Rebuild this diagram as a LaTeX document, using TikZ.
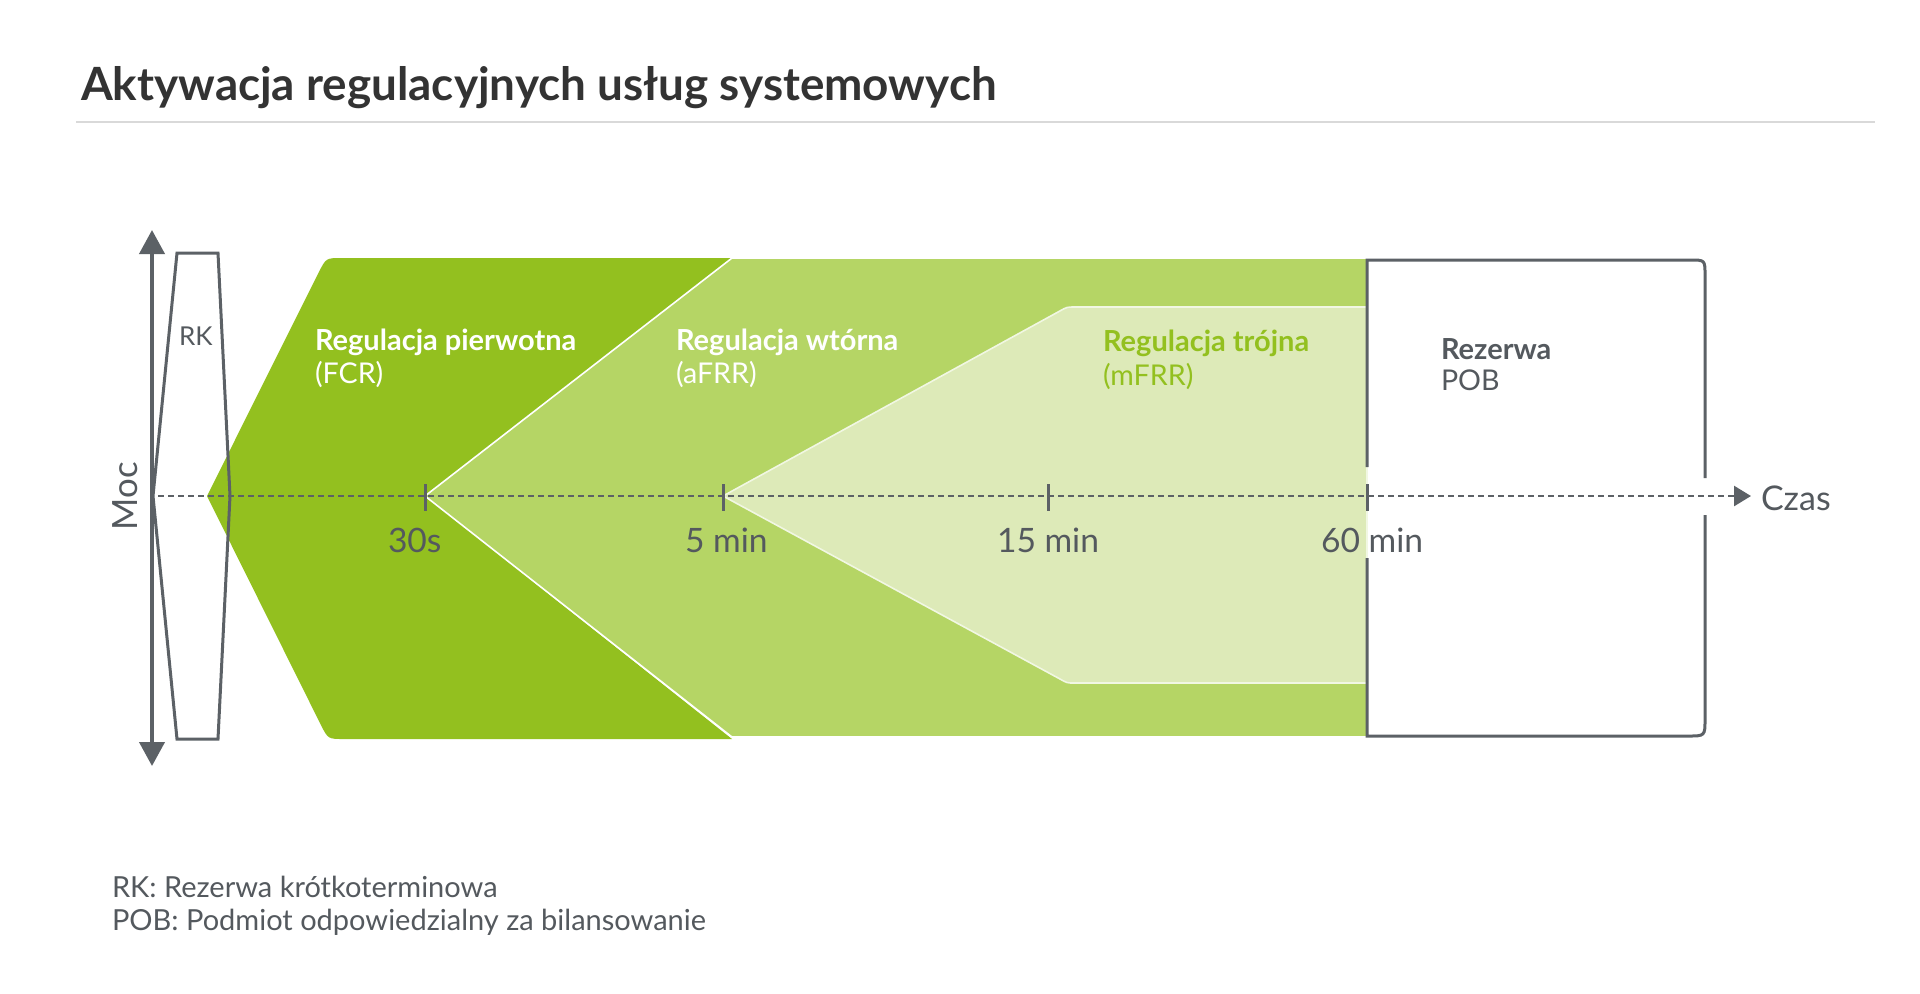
\documentclass[tikz,border=0pt]{standalone}
\usepackage{fontspec}
\setmainfont{Lato}
\usetikzlibrary{arrows.meta}
\definecolor{gfcr}{HTML}{93C01F}
\definecolor{gafrr}{HTML}{B5D565}
\definecolor{gmfrr}{HTML}{DDEAB8}
\definecolor{lgray}{HTML}{5C6166}
\definecolor{tgray}{HTML}{54595E}
\definecolor{ttl}{HTML}{333333}
\definecolor{rulec}{HTML}{D9D9D9}
\begin{document}
\begin{tikzpicture}[x=0.5pt,y=-0.5pt,
  txt/.style={anchor=base west, inner sep=0pt, outer sep=0pt},
  regbold/.style={font=\bfseries\fontsize{14.5pt}{16pt}\selectfont},
  regnorm/.style={font=\fontsize{14.3pt}{16pt}\selectfont},
  ticklbl/.style={txt, text=tgray, font=\fontsize{16.8pt}{19pt}\selectfont},
  gline/.style={draw=lgray, line width=1.5pt},
  tickmark/.style={draw=lgray, line width=1.5pt},
  axisline/.style={draw=lgray, line width=1.3pt, dash pattern=on 3pt off 2pt}]
\useasboundingbox (0,0) rectangle (1920,993);
\fill[white] (0,0) rectangle (1920,993);

% title
\node[txt, text=ttl, font=\bfseries\fontsize{22.9pt}{26pt}\selectfont] (title) at (81,100) {Aktywacja regulacyjnych usług systemowych};
\coordinate (ruleL) at (76,122);
\coordinate (ruleR) at (1875,122);
\draw[rulec, line width=1pt] (ruleL) -- (ruleR);

% FCR region
\fill[gfcr] (342,258) -- (732,258) -- (425,496) -- (732,739) -- (344,739)
  .. controls (328,739) .. (320.8,724.7) -- (207,496) -- (318.8,272.3)
  .. controls (326,258) .. cycle;
% aFRR region
\filldraw[fill=gafrr, draw=white, line width=0.8pt] (425,496) -- (732,258) -- (1367,258) -- (1367,737) -- (732,737) -- cycle;
% mFRR region
\filldraw[fill=gmfrr, draw=white!60!gmfrr, line width=0.8pt] (723,496) -- (1060,310.9)
  .. controls (1067,307) .. (1075,307) -- (1367,307) -- (1367,683) -- (1075,683)
  .. controls (1067,683) .. (1060,679) -- cycle;

% POB box
\draw[gline] (1367,467) -- (1367,260) -- (1690,260) .. controls (1705,260) .. (1705,275) -- (1705,478);
\draw[gline] (1705,515) -- (1705,719) .. controls (1705,736) .. (1688,736) -- (1367,736) -- (1367,558);

% RK shape
\draw[gline, line join=miter] (177,253) -- (218,253) -- (230,496) -- (218,739) -- (177,739) -- (153,496) -- cycle;
\node[txt, text=tgray, font=\fontsize{13pt}{15pt}\selectfont] (rk) at (179,345) {RK};

% vertical axis
\coordinate (ytop) at (152,230);
\coordinate (ybot) at (152,766);
\draw[lgray, line width=2pt, {Triangle[length=12pt,width=12.5pt]}-{Triangle[length=12pt,width=12.5pt]}] (ytop) -- (ybot);
\node[rotate=90, anchor=base, inner sep=0pt, text=tgray, font=\fontsize{17.4pt}{19pt}\selectfont] (moc) at (137,496) {Moc};

% horizontal axis
\coordinate (xstart) at (158,496);
\coordinate (xend) at (1751,496);
\draw[axisline, -{Triangle[length=8.5pt,width=10pt]}] (xstart) -- (xend);
\node[txt, text=tgray, font=\fontsize{17pt}{19pt}\selectfont] (czas) at (1761,510) {Czas};

% ticks
\foreach \x/\n in {425/t1, 723/t2, 1048/t3, 1367/t4}{
  \coordinate (\n a) at (\x,484);
  \coordinate (\n b) at (\x,511);
  \draw[tickmark] (\n a) -- (\n b);
}
\node[ticklbl] (l30) at (388,552.5) {30s};
\node[ticklbl] (l5) at (685,552.5) {5 min};
\node[ticklbl] (l15) at (997,552.5) {15 min};
\node[ticklbl] (l60) at (1321,552.5) {60 min};

% region labels
\node[txt, regbold, text=white] (fcr1) at (315,350.5) {Regulacja pierwotna};
\node[txt, regnorm, text=white] (fcr2) at (315,383.5) {(FCR)};
\node[txt, regbold, text=white] (afrr1) at (676,350.5) {Regulacja wtórna};
\node[txt, regnorm, text=white] (afrr2) at (676,383.5) {(aFRR)};
\node[txt, regbold, text=gfcr] (mfrr1) at (1103,351.5) {Regulacja trójna};
\node[txt, regnorm, text=gfcr] (mfrr2) at (1103,385) {(mFRR)};
\node[txt, regbold, text=tgray] (pob1) at (1441,359) {Rezerwa};
\node[txt, regnorm, text=tgray] (pob2) at (1441,390.5) {POB};

% footnotes
\node[txt, text=tgray, font=\fontsize{14.5pt}{16pt}\selectfont] (fn1) at (112,897) {RK: Rezerwa krótkoterminowa};
\node[txt, text=tgray, font=\fontsize{14.5pt}{16pt}\selectfont] (fn2) at (112,930) {POB: Podmiot odpowiedzialny za bilansowanie};
\end{tikzpicture}
\end{document}
